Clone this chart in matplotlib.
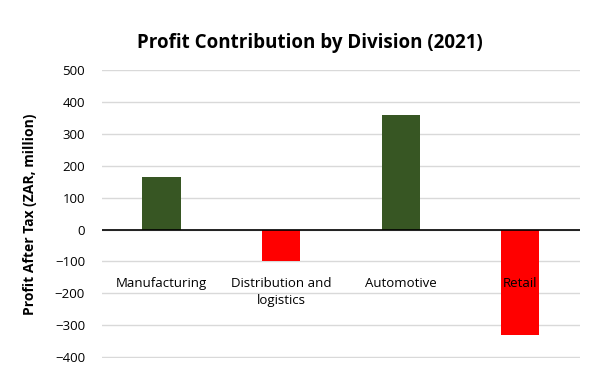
import numpy as np
import matplotlib.pyplot as plt

plt.rcParams['font.family'] = ['Open Sans', 'DejaVu Sans']

# Data
divisions = ['Manufacturing', 'Distribution and\nlogistics', 'Automotive', 'Retail']
profit = [165, -100, 360, -330]
yticks = [500, 400, 300, 200, 100, 0, -100, -200, -300, -400]

fig = plt.figure(figsize=(5.95, 3.74), dpi=100)
ax = fig.add_axes([0.171, 0.043, 0.804, 0.770])

x = np.arange(len(divisions))
colors = ['#375623' if v >= 0 else '#ff0000' for v in profit]
ax.bar(x, profit, width=0.32, color=colors, zorder=3)

ax.set_xlim(-0.5, len(divisions) - 0.5)
ax.set_ylim(-402, 500)
ax.set_yticks(yticks)
ax.set_xticks([])
ax.tick_params(axis='y', length=0, labelsize=9.5, pad=12, colors='#000000')
ax.yaxis.grid(True, color='#d9d9d9', linewidth=1, zorder=0)
ax.axhline(0, color='black', linewidth=1.2, zorder=4)
for s in ax.spines.values():
    s.set_visible(False)

# category labels sit low, like the Excel "low" position
for xi, name in zip(x, divisions):
    ax.text(xi, -150, name, ha='center', va='top', fontsize=9.5,
            color='#000000', linespacing=1.35, zorder=5)

ax.set_ylabel('Profit After Tax (ZAR, million)', fontsize=10, fontweight='bold', labelpad=13)
fig.text(0.52, 0.885, 'Profit Contribution by Division (2021)', ha='center',
         va='center', fontsize=13.5, fontweight='bold')

fig.savefig('out.png', dpi=100)
